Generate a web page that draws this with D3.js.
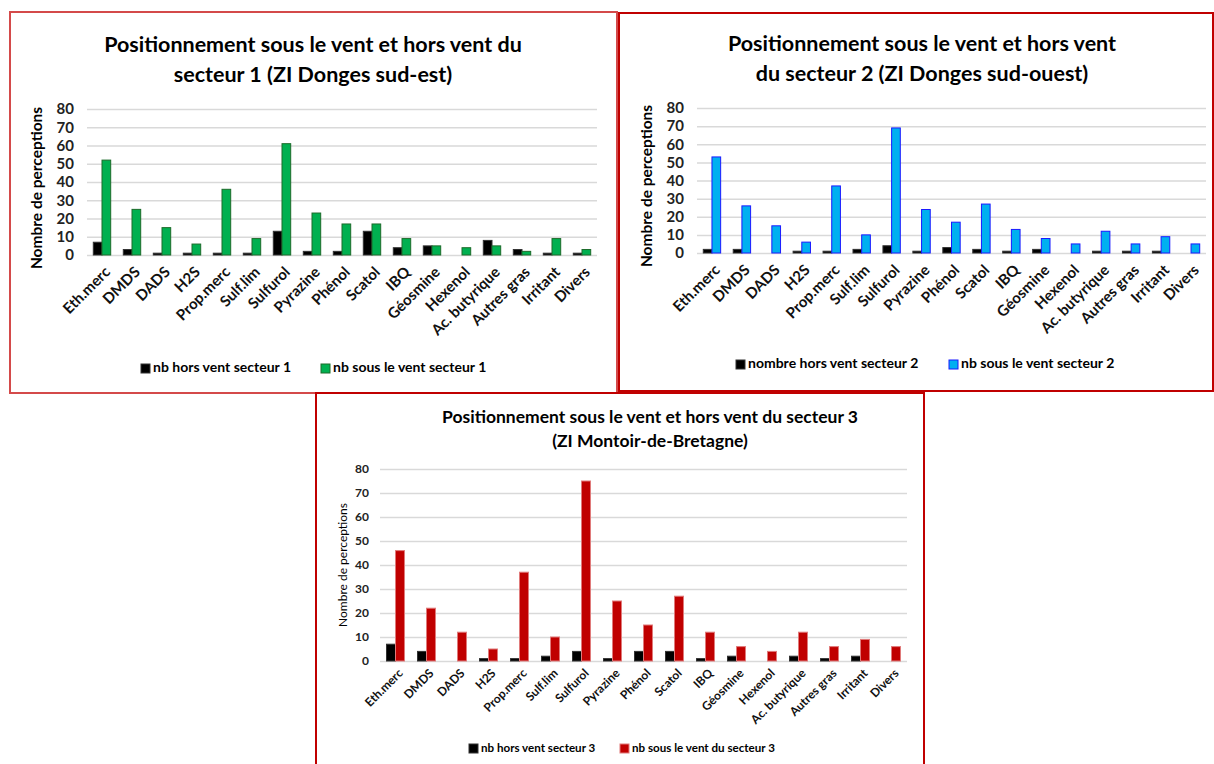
<!DOCTYPE html>
<html>
  <head>
    <meta charset="utf-8">
    <title></title>
    <style>
      body { margin: 0; background: #fff; }
      text { font-family: Lato, "Open Sans", sans-serif; }
    </style>
  </head>
  <body>
    <div id="chart"></div>
    <script src="https://d3js.org/d3.v7.min.js" charset="utf-8"></script>
    <script>

      const width = 1214;
      const height = 764;

      // odour categories, same for the 3 sectors
      const categories = ['Eth.merc', 'DMDS', 'DADS', 'H2S', 'Prop.merc', 'Sulf.lim', 'Sulfurol', 'Pyrazine',
                          'Phénol', 'Scatol', 'IBQ', 'Géosmine', 'Hexenol', 'Ac. butyrique', 'Autres gras', 'Irritant', 'Divers'];

      const yTicks = [0, 10, 20, 30, 40, 50, 60, 70, 80];

      // secteur 1 (ZI Donges sud-est)
      const horsVent1 = [7, 3, 1, 1, 1, 1, 13, 2, 2, 13, 4, 5, 0, 8, 3, 1, 1];
      const sousVent1 = [52, 25, 15, 6, 36, 9, 61, 23, 17, 17, 9, 5, 4, 5, 2, 9, 3];

      // secteur 2 (ZI Donges sud-ouest)
      const horsVent2 = [2, 2, 0, 1, 1, 2, 4, 1, 3, 2, 1, 2, 0, 1, 1, 1, 0];
      const sousVent2 = [53, 26, 15, 6, 37, 10, 69, 24, 17, 27, 13, 8, 5, 12, 5, 9, 5];

      // secteur 3 (ZI Montoir-de-Bretagne)
      const horsVent3 = [7, 4, 0, 1, 1, 2, 4, 1, 4, 4, 1, 2, 0, 2, 1, 2, 0];
      const sousVent3 = [46, 22, 12, 5, 37, 10, 75, 25, 15, 27, 12, 6, 4, 12, 6, 9, 6];

      const svg = d3.select('#chart')
                    .append('svg')
                    .attr('width', width)
                    .attr('height', height);

      const drawPanel = function(p) {
        const g = svg.append('g');

        g.append('rect')
          .attr('x', p.frame[0]).attr('y', p.frame[1])
          .attr('width', p.frame[2]).attr('height', p.frame[3])
          .attr('fill', '#fff')
          .attr('stroke', p.frameColor)
          .attr('stroke-width', 2);

        // title
        p.title.forEach((line, i) => {
          g.append('text')
            .attr('x', p.titleX)
            .attr('y', p.titleY + i * p.titleGap)
            .attr('text-anchor', 'middle')
            .attr('font-size', p.titleSize)
            .attr('font-weight', 'bold')
            .text(line);
        });

        const x = d3.scaleBand()
                    .domain(categories)
                    .range([p.left, p.right])
                    .paddingInner(p.pad)
                    .paddingOuter(p.pad / 2);
        const sub = d3.scaleBand()
                      .domain(['hors', 'sous'])
                      .range([0, x.bandwidth()]);
        const y = d3.scaleLinear().domain([0, 80]).range([p.bottom, p.top]);

        // grid + y labels
        const yAxis = g.append('g')
          .attr('transform', `translate(${p.left},0)`)
          .call(d3.axisLeft(y).tickValues(yTicks).tickSize(-(p.right - p.left)).tickPadding(p.tickPad));
        yAxis.select('.domain').remove();
        yAxis.selectAll('line').attr('stroke', '#d9d9d9').attr('stroke-width', 1.5);
        yAxis.selectAll('text')
          .attr('font-size', p.tickSize)
          .attr('font-weight', 'bold')
          .attr('fill', '#222')
          .style('font-family', 'Lato, "Open Sans", sans-serif');

        // x labels
        const xAxis = g.append('g')
          .attr('transform', `translate(0,${p.bottom})`)
          .call(d3.axisBottom(x).tickSize(0));
        xAxis.select('.domain').remove();
        xAxis.selectAll('text')
          .attr('x', 0).attr('y', 0).attr('dy', 0)
          .attr('text-anchor', 'end')
          .attr('transform', `translate(${p.labelDx},${p.labelDy}) rotate(-45)`)
          .attr('font-size', p.labelSize)
          .attr('font-weight', 'bold')
          .attr('fill', '#111')
          .style('font-family', 'Lato, "Open Sans", sans-serif');

        // bars (zero values are not drawn)
        const series = [
          { key: 'hors', values: p.hors, fill: '#000', stroke: '#333' },
          { key: 'sous', values: p.sous, fill: p.color, stroke: p.edge }
        ];
        series.forEach(s => {
          const rows = s.values.map((v, i) => ({ cat: categories[i], v: v })).filter(d => d.v > 0);
          g.append('g').selectAll('rect')
            .data(rows)
            .enter()
            .append('rect')
            .attr('x', d => x(d.cat) + sub(s.key))
            .attr('y', d => y(d.v))
            .attr('width', sub.bandwidth())
            .attr('height', d => p.bottom - y(d.v))
            .attr('fill', s.fill)
            .attr('stroke', s.stroke)
            .attr('stroke-width', 1);
        });

        // y title
        g.append('text')
          .attr('transform', `translate(${p.yLabelX},${p.yLabelY}) rotate(-90)`)
          .attr('text-anchor', 'middle')
          .attr('font-size', p.yLabelSize)
          .attr('font-weight', p.yLabelWeight)
          .text('Nombre de perceptions');

        // legend
        const legend = [
          { text: p.legend[0], x: p.legendX[0], fill: '#000', stroke: '#333' },
          { text: p.legend[1], x: p.legendX[1], fill: p.color, stroke: p.edge }
        ];
        legend.forEach(l => {
          g.append('rect')
            .attr('x', l.x).attr('y', p.legendY - p.legendBox + 1)
            .attr('width', p.legendBox).attr('height', p.legendBox)
            .attr('fill', l.fill).attr('stroke', l.stroke);
          g.append('text')
            .attr('x', l.x + p.legendBox + 3)
            .attr('y', p.legendY)
            .attr('font-size', p.legendSize)
            .attr('font-weight', 'bold')
            .text(l.text);
        });
      }

      drawPanel({
        frame: [10, 12, 607, 381], frameColor: '#d44a4a',
        title: ['Positionnement sous le vent et hors vent du', 'secteur 1 (ZI Donges sud-est)'],
        titleX: 313, titleY: 52, titleGap: 30, titleSize: 21.5,
        left: 87, right: 597, top: 109, bottom: 255, pad: 0.42,
        tickPad: 13, tickSize: 15, labelSize: 15, labelDx: 9, labelDy: 18,
        yLabelX: 42, yLabelY: 188, yLabelSize: 15.5, yLabelWeight: 'bold',
        hors: horsVent1, sous: sousVent1, color: '#00b050', edge: '#1c6b2a',
        legend: ['nb hors vent secteur 1', 'nb sous le vent secteur 1'],
        legendX: [141, 321], legendY: 372, legendBox: 9, legendSize: 14
      });

      drawPanel({
        frame: [619, 13, 594, 378], frameColor: '#c00000',
        title: ['Positionnement sous le vent et hors vent', 'du secteur 2 (ZI Donges sud-ouest)'],
        titleX: 922, titleY: 51, titleGap: 30, titleSize: 21.5,
        left: 697, right: 1206, top: 108, bottom: 253, pad: 0.42,
        tickPad: 13, tickSize: 15, labelSize: 15, labelDx: 9, labelDy: 18,
        yLabelX: 652, yLabelY: 186, yLabelSize: 15.5, yLabelWeight: 'bold',
        hors: horsVent2, sous: sousVent2, color: '#00b0f0', edge: '#1a1aff',
        legend: ['nombre hors vent secteur 2', 'nb sous le vent secteur 2'],
        legendX: [736, 949], legendY: 368, legendBox: 9, legendSize: 14
      });

      drawPanel({
        frame: [316, 393, 608, 380], frameColor: '#c00000',
        title: ['Positionnement sous le vent et hors vent du secteur 3', '(ZI Montoir-de-Bretagne)'],
        titleX: 650, titleY: 423, titleGap: 24, titleSize: 17.5,
        left: 380, right: 907, top: 469, bottom: 661, pad: 0.42,
        tickPad: 11, tickSize: 12, labelSize: 12, labelDx: 8, labelDy: 13,
        yLabelX: 347, yLabelY: 565, yLabelSize: 12, yLabelWeight: 'normal',
        hors: horsVent3, sous: sousVent3, color: '#c00000', edge: '#e07a7a',
        legend: ['nb hors vent secteur 3', 'nb sous le vent du secteur 3'],
        legendX: [469, 620], legendY: 752, legendBox: 9, legendSize: 11.6
      });

    </script>
  </body>
</html>
